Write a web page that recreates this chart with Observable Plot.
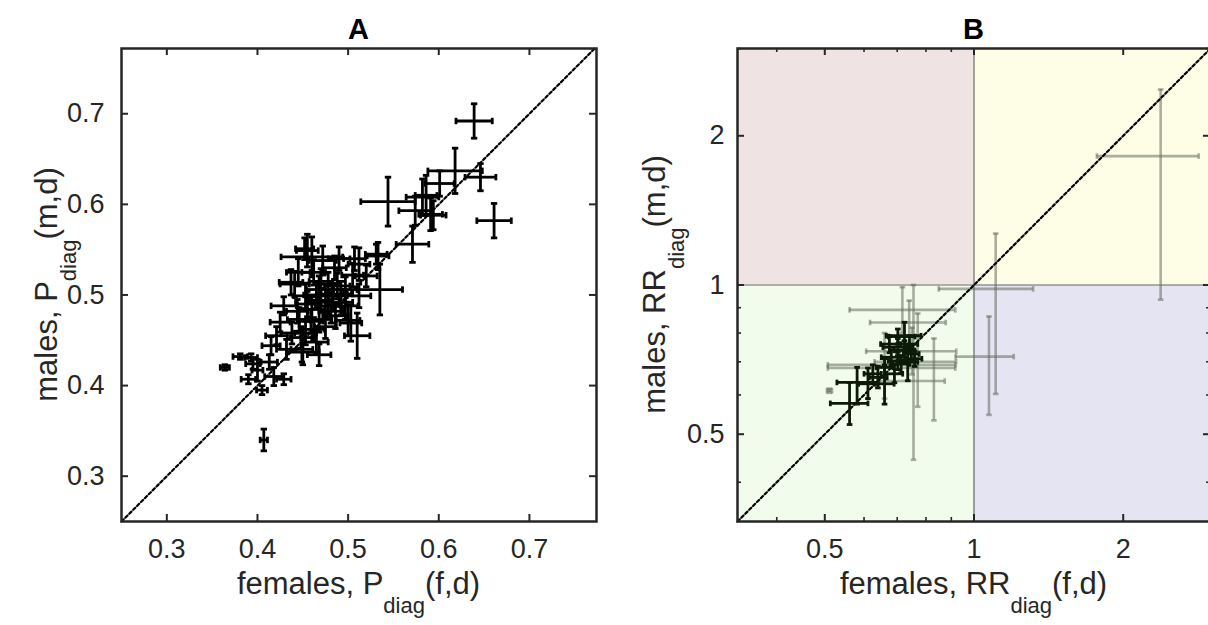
<!DOCTYPE html>
<html><head><meta charset="utf-8">
<script src="https://cdn.jsdelivr.net/npm/d3@7"></script>
<script src="https://cdn.jsdelivr.net/npm/@observablehq/plot@0.6"></script>
<style>
html,body{margin:0;padding:0;background:#fff;overflow:hidden;width:1208px;height:625px;}
#root{position:relative;width:1208px;height:625px;overflow:hidden;font-family:"Liberation Sans",Arial,sans-serif;}
.panel{position:absolute;top:0}
#overlay{position:absolute;left:0;top:0;pointer-events:none}
</style></head><body><div id="root"></div>
<script>
// ---------- Panel A data: P_diag females (x) vs males (y), with half-widths of error bars
const fA   = [0.639,0.661,0.646,0.544,0.618,0.601,0.591,0.574,0.571,0.582,0.407,0.364,0.381,0.393,0.390,0.405,0.400,0.418,0.429,0.413,0.421,0.415,0.429,0.441,0.460,0.472,0.455,0.490,0.512,0.533,0.520,0.535,0.510,0.503,0.468,0.449,0.475,0.460,0.483,0.497,0.446,0.453,0.438,0.468,0.486,0.468,0.453,0.497,0.512,0.594,0.586,0.437,0.450,0.448,0.444,0.459,0.481,0.470,0.492,0.531,0.452,0.500,0.395,0.478,0.462,0.505,0.475,0.425,0.432,0.465,0.465,0.478,0.488,0.455,0.470,0.492,0.462,0.485,0.507,0.445];
const mA   = [0.692,0.582,0.630,0.603,0.637,0.623,0.589,0.593,0.556,0.608,0.340,0.420,0.432,0.431,0.407,0.395,0.417,0.410,0.407,0.426,0.455,0.444,0.488,0.512,0.542,0.538,0.549,0.540,0.534,0.543,0.521,0.506,0.455,0.469,0.434,0.440,0.492,0.484,0.499,0.488,0.473,0.458,0.458,0.473,0.477,0.506,0.499,0.506,0.499,0.588,0.610,0.514,0.437,0.453,0.482,0.471,0.482,0.494,0.501,0.545,0.551,0.472,0.424,0.512,0.525,0.522,0.465,0.470,0.440,0.448,0.500,0.488,0.510,0.490,0.515,0.492,0.462,0.530,0.540,0.525];
const fAerr= [0.020,0.019,0.017,0.030,0.030,0.016,0.013,0.018,0.018,0.018,0.004,0.005,0.008,0.007,0.008,0.006,0.006,0.010,0.008,0.009,0.012,0.010,0.014,0.016,0.034,0.015,0.012,0.012,0.012,0.012,0.012,0.025,0.014,0.012,0.013,0.012,0.015,0.014,0.014,0.014,0.013,0.012,0.012,0.014,0.014,0.014,0.013,0.013,0.013,0.014,0.012,0.013,0.018,0.012,0.012,0.013,0.013,0.013,0.013,0.012,0.010,0.013,0.008,0.013,0.013,0.012,0.012,0.011,0.011,0.013,0.014,0.014,0.014,0.013,0.013,0.013,0.012,0.013,0.012,0.013];
const mAerr= [0.019,0.019,0.015,0.027,0.025,0.014,0.018,0.016,0.020,0.020,0.012,0.003,0.003,0.004,0.005,0.005,0.012,0.010,0.006,0.008,0.010,0.010,0.010,0.014,0.022,0.016,0.018,0.013,0.018,0.015,0.012,0.028,0.025,0.020,0.012,0.014,0.015,0.014,0.014,0.015,0.013,0.013,0.012,0.014,0.014,0.015,0.014,0.014,0.013,0.016,0.022,0.014,0.014,0.012,0.013,0.013,0.013,0.013,0.014,0.011,0.012,0.017,0.006,0.013,0.014,0.013,0.013,0.011,0.011,0.012,0.015,0.014,0.014,0.014,0.014,0.014,0.013,0.013,0.013,0.015];

// ---------- Panel B data: RR_diag, significant (dark) estimates with CI
const fB    = [0.561,0.581,0.611,0.660,0.640,0.702,0.724,0.724,0.735,0.702,0.681,0.747,0.660,0.625,0.691,0.713,0.741,0.759,0.675,0.702];
const fBlo  = [0.513,0.529,0.585,0.630,0.615,0.672,0.690,0.665,0.700,0.655,0.650,0.720,0.635,0.600,0.665,0.685,0.712,0.730,0.648,0.672];
const fBhi  = [0.611,0.640,0.640,0.690,0.668,0.733,0.760,0.782,0.770,0.752,0.712,0.775,0.686,0.650,0.718,0.742,0.770,0.785,0.703,0.760];
const mB    = [0.577,0.636,0.632,0.632,0.651,0.703,0.738,0.790,0.700,0.749,0.715,0.726,0.682,0.662,0.662,0.693,0.760,0.710,0.760,0.787];
const mBlo  = [0.523,0.575,0.590,0.575,0.620,0.675,0.705,0.740,0.641,0.720,0.690,0.700,0.655,0.635,0.635,0.665,0.730,0.685,0.730,0.760];
const mBhi  = [0.636,0.682,0.680,0.690,0.685,0.732,0.772,0.841,0.760,0.780,0.740,0.755,0.710,0.690,0.690,0.720,0.790,0.735,0.790,0.815];
// non-significant (grey) estimates
const fBg   = [2.38,1.106,1.072,0.755,0.717,0.770,0.830,0.750,0.740,0.660,0.511];
const fBglo = [1.77,0.849,0.918,0.507,0.561,0.630,0.645,0.606,0.617,0.507,0.505];
const fBghi = [2.84,1.316,1.203,0.917,0.917,0.920,0.873,0.921,0.877,0.917,0.517];
const mBg   = [1.82,0.982,0.717,0.680,0.891,0.700,0.640,0.735,0.840,0.690,0.612];
const mBglo = [0.934,0.603,0.547,0.444,0.800,0.568,0.533,0.660,0.760,0.590,0.606];
const mBghi = [2.48,1.270,0.864,1.000,0.990,0.876,0.780,0.820,0.930,0.800,0.618];

// axes / ticks / quadrant colours
const domA = [0.25, 0.774];
const domAy = [0.25, 0.772];
const ticksA = [0.3, 0.4, 0.5, 0.6, 0.7];
const domB = [1/3, 3];
const ticksB = [0.5, 1, 2];
const minorB = [0.4, 0.6, 0.7, 0.8, 0.9, 3];
const quadColors = ["#f1fcec", "#e4e4f2", "#efe3e3", "#fefee6"]; // low/low, high x/low y, low x/high y, high/high

const ink = "#262626";
const vbar = {draw(ctx, size){ const r = Math.sqrt(size/Math.PI); ctx.moveTo(0,-r); ctx.lineTo(0,r);} };
const hbar = {draw(ctx, size){ const r = Math.sqrt(size/Math.PI); ctx.moveTo(-r,0); ctx.lineTo(r,0);} };

function crosses(data, color, sw, cap) {
  return [
    Plot.ruleY(data, {y: "y", x1: "xlo", x2: "xhi", stroke: color, strokeWidth: sw}),
    Plot.ruleX(data, {x: "x", y1: "ylo", y2: "yhi", stroke: color, strokeWidth: sw}),
    Plot.dot(data, {x: "xlo", y: "y", symbol: vbar, r: cap, stroke: color, fill: "none", strokeWidth: sw}),
    Plot.dot(data, {x: "xhi", y: "y", symbol: vbar, r: cap, stroke: color, fill: "none", strokeWidth: sw}),
    Plot.dot(data, {x: "x", y: "ylo", symbol: hbar, r: cap, stroke: color, fill: "none", strokeWidth: sw}),
    Plot.dot(data, {x: "x", y: "yhi", symbol: hbar, r: cap, stroke: color, fill: "none", strokeWidth: sw})
  ];
}
// inward tick marks on all four sides; "step" converts a pixel length into data units
function boxTicks(xt, yt, dom, step, sw) {
  const lo = dom[0], hi = dom[1];
  return [
    Plot.ruleX(xt, {x: d => d, y1: lo, y2: step(lo, +1), stroke: ink, strokeWidth: sw}),
    Plot.ruleX(xt, {x: d => d, y1: hi, y2: step(hi, -1), stroke: ink, strokeWidth: sw}),
    Plot.ruleY(yt, {y: d => d, x1: lo, x2: step(lo, +1), stroke: ink, strokeWidth: sw}),
    Plot.ruleY(yt, {y: d => d, x1: hi, x2: step(hi, -1), stroke: ink, strokeWidth: sw})
  ];
}

const dataA = fA.map((f, i) => ({x: f, y: mA[i], xlo: f - fAerr[i], xhi: f + fAerr[i], ylo: mA[i] - mAerr[i], yhi: mA[i] + mAerr[i]}));
const dataB = fB.map((f, i) => ({x: f, y: mB[i], xlo: fBlo[i], xhi: fBhi[i], ylo: mBlo[i], yhi: mBhi[i]}));
const dataBg = fBg.map((f, i) => ({x: f, y: mBg[i], xlo: fBglo[i], xhi: fBghi[i], ylo: mBglo[i], yhi: mBghi[i]}));

const root = document.getElementById("root");
const fontFam = '"Liberation Sans", Arial, sans-serif';

// ----- Panel A
const mL_A = 121, mR_A = 4, mT = 48, mB_ = 104, W = 600, H = 625;
const innerWA = W - mL_A - mR_A, innerHA = H - mT - mB_;
const unitA = (domAy[1] - domAy[0]) / innerHA;
const linStep = len => (v, s) => v + s * len * unitA;
const plotA = Plot.plot({
  width: W, height: H, marginLeft: mL_A, marginRight: mR_A, marginTop: mT, marginBottom: mB_,
  x: {domain: domA}, y: {domain: domAy},
  style: {fontFamily: fontFam, color: ink, background: "transparent"},
  marks: [
    Plot.line([[domA[0], domAy[0]], [domAy[1], domAy[1]]], {x: d => d[0], y: d => d[1], stroke: "#000", strokeWidth: 2.2, strokeDasharray: "3,2.5"}),
    ...crosses(dataA, "#000", 2.8, 3.2),
    Plot.ruleX(ticksA, {x: d => d, y1: domAy[0], y2: linStep(7)(domAy[0], 1), stroke: ink, strokeWidth: 2}),
    Plot.ruleX(ticksA, {x: d => d, y1: domAy[1], y2: linStep(7)(domAy[1], -1), stroke: ink, strokeWidth: 2}),
    Plot.ruleY(ticksA, {y: d => d, x1: domA[0], x2: linStep(7)(domA[0], 1), stroke: ink, strokeWidth: 2}),
    Plot.ruleY(ticksA, {y: d => d, x1: domA[1], x2: linStep(7)(domA[1], -1), stroke: ink, strokeWidth: 2}),
    Plot.axisX(ticksA, {tickSize: 0, tickPadding: 17, fontSize: 27, label: null, tickFormat: d3.format(".1f"), fill: ink}),
    Plot.axisY(ticksA, {tickSize: 0, tickPadding: 17, fontSize: 27, label: null, tickFormat: d3.format(".1f"), fill: ink}),
    Plot.frame({stroke: ink, strokeWidth: 2.5})
  ]
});
plotA.classList.add("panel"); plotA.style.left = "0px";
root.appendChild(plotA);

// ----- Panel B
const mL_B = 117, mR_B = 10;
const innerWB = W - mL_B - mR_B, innerHB = H - mT - mB_;
const logUnitB = Math.log(domB[1] / domB[0]) / innerHB;
const logStep = len => (v, s) => v * Math.exp(s * len * logUnitB);
const quads = [
  {x1: domB[0], x2: 1, y1: domB[0], y2: 1, c: quadColors[0]},
  {x1: 1, x2: domB[1], y1: domB[0], y2: 1, c: quadColors[1]},
  {x1: domB[0], x2: 1, y1: 1, y2: domB[1], c: quadColors[2]},
  {x1: 1, x2: domB[1], y1: 1, y2: domB[1], c: quadColors[3]}
];
const plotB = Plot.plot({
  width: W, height: H, marginLeft: mL_B, marginRight: mR_B, marginTop: mT, marginBottom: mB_,
  x: {type: "log", domain: domB}, y: {type: "log", domain: domB},
  color: {type: "identity"},
  style: {fontFamily: fontFam, color: ink, background: "transparent"},
  marks: [
    Plot.rect(quads, {x1: "x1", x2: "x2", y1: "y1", y2: "y2", fill: "c"}),
    Plot.ruleX([1], {stroke: "#666", strokeWidth: 1.2}),
    Plot.ruleY([1], {stroke: "#666", strokeWidth: 1.2}),
    ...crosses(dataBg, "rgba(100,108,95,0.55)", 2.6, 2.8),
    Plot.line([[domB[0], domB[0]], [domB[1], domB[1]]], {x: d => d[0], y: d => d[1], stroke: "#000", strokeWidth: 2.2, strokeDasharray: "3,2.5"}),
    ...crosses(dataB, "#0c1a08", 2.8, 2.8),
    ...boxTicks(ticksB, ticksB, domB, logStep(7), 2),
    ...boxTicks(minorB, minorB, domB, logStep(4), 1.6),
    Plot.axisX(ticksB, {tickSize: 0, tickPadding: 17, fontSize: 27, label: null, tickFormat: d => String(d), fill: ink}),
    Plot.axisY(ticksB, {tickSize: 0, tickPadding: 13, fontSize: 27, label: null, tickFormat: d => String(d), fill: ink}),
    Plot.frame({stroke: ink, strokeWidth: 2.5})
  ]
});
plotB.classList.add("panel"); plotB.style.left = "620px";
root.appendChild(plotB);

// ----- Titles and axis labels (real text, with subscripts)
const svg = d3.select(root).append("svg").attr("id", "overlay").attr("width", 1208).attr("height", 625)
  .style("font-family", fontFam).style("fill", ink);
const titles = [{t: "A", x: 358.5}, {t: "B", x: 973.5}];
titles.forEach(d => svg.append("text").attr("x", d.x).attr("y", 39).attr("text-anchor", "middle")
  .attr("font-size", 29).attr("font-weight", "bold").attr("fill", "#000").text(d.t));
function label(g, pre, post) {
  const t = g.append("text").attr("text-anchor", "middle").attr("font-size", 31).attr("fill", ink);
  t.append("tspan").text(pre);
  t.append("tspan").attr("font-size", 22).attr("dy", 19).text("diag");
  t.append("tspan").attr("dy", -19).text(post);
}
label(svg.append("g").attr("transform", "translate(358.5,594)"), "females, P", "(f,d)");
label(svg.append("g").attr("transform", "translate(973.5,594)"), "females, RR", "(f,d)");
label(svg.append("g").attr("transform", "translate(57,284.5) rotate(-90)"), "males, P", "(m,d)");
label(svg.append("g").attr("transform", "translate(665,284.5) rotate(-90)"), "males, RR", "(m,d)");
</script></body></html>
